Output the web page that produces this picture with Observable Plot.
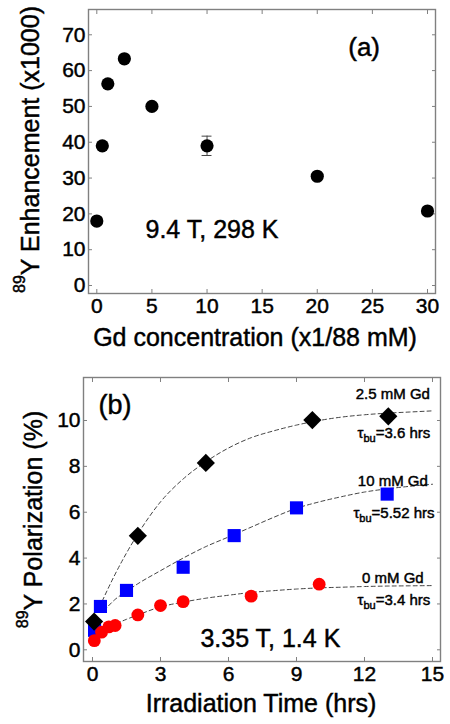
<!DOCTYPE html>
<html>
<head>
<meta charset="utf-8">
<script src="https://cdn.jsdelivr.net/npm/d3@7"></script>
<script src="https://cdn.jsdelivr.net/npm/@observablehq/plot@0.6"></script>
<style>
  html, body { margin: 0; padding: 0; background: #fff; }
  #chart svg { display: block; }
  #chart svg text { stroke: #000; stroke-width: 0.45px; }
</style>
</head>
<body>
<div id="chart"></div>
<script>
// ---------- Panel (a) data ----------
const gdConc = [0, 0.5, 1, 2.5, 5, 10, 20, 30];
const enhancement = [18, 39, 56.3, 63.3, 50, 39, 30.5, 20.8];
const enhancementErr = [0, 0, 0, 0, 0, 2.7, 0, 0];
const xTicksA = [0, 5, 10, 15, 20, 25, 30];
const yTicksA = [0, 10, 20, 30, 40, 50, 60, 70];

// ---------- Panel (b) data ----------
const gd25T = [0.07, 2.0, 5.0, 9.7, 13.05];
const gd25Y = [1.23, 4.97, 8.15, 10.02, 10.18];
const gd10T = [0.09, 0.35, 1.5, 4.0, 6.25, 9.0, 13.0];
const gd10Y = [0.85, 1.89, 2.59, 3.6, 4.98, 6.19, 6.79];
const gd0T = [0.08, 0.4, 0.72, 1.0, 2.0, 3.0, 4.0, 7.0, 10.0];
const gd0Y = [0.4, 0.77, 1.0, 1.06, 1.52, 1.93, 2.1, 2.34, 2.86];

// fitted build-up curves
const fit25T = [0.3, 1, 2, 3, 4, 5, 6, 7, 8, 9, 10, 11, 12, 13, 14, 15];
const fit25Y = [1.85, 3.3, 5.05, 6.45, 7.45, 8.2, 8.8, 9.25, 9.55, 9.8, 10.0, 10.15, 10.25, 10.32, 10.37, 10.42];
const fit10T = [0.5, 1, 1.5, 2, 3, 4, 5, 6, 7, 8, 9, 10, 11, 12, 13, 14, 15];
const fit10Y = [1.7, 2.2, 2.55, 2.88, 3.45, 4.0, 4.5, 4.92, 5.35, 5.78, 6.17, 6.45, 6.68, 6.88, 7.02, 7.13, 7.22];
const fit0T = [0.5, 1, 1.5, 2, 3, 4, 5, 6, 7, 8, 9, 10, 11, 12, 13, 14, 15];
const fit0Y = [0.9, 1.12, 1.33, 1.52, 1.87, 2.08, 2.25, 2.38, 2.5, 2.58, 2.65, 2.7, 2.73, 2.76, 2.78, 2.79, 2.8];

const xTicksB = [0, 3, 6, 9, 12, 15];
const yTicksB = [0, 2, 4, 6, 8, 10];

const seriesLabels = ["2.5 mM Gd", "10 mM Gd", "0 mM Gd"];
const tauLabels = ["τbu=3.6 hrs", "τbu=5.52 hrs", "τbu=3.4 hrs"];

// ---------- helpers ----------
const FONT = "'Liberation Sans', Arial, Helvetica, sans-serif";
const GRAY = "#808080";
const zip = (xs, ys) => xs.map((x, i) => ({x, y: ys[i]}));

function frameAxes(xt, yt) {
  return [
    Plot.frame({stroke: GRAY, strokeWidth: 1.4}),
    Plot.axisX(xt, {anchor: "bottom", tickSize: -4, tickPadding: 9, stroke: GRAY, fill: "#000", fontSize: 21, label: null}),
    Plot.axisX(xt, {anchor: "top", tickSize: -4, stroke: GRAY, fill: "none", label: null}),
    Plot.axisY(yt, {anchor: "left", tickSize: -4, tickPadding: 7, stroke: GRAY, fill: "#000", fontSize: 21, label: null}),
    Plot.axisY(yt, {anchor: "right", tickSize: -4, stroke: GRAY, fill: "none", label: null})
  ];
}

function richText(svg) {
  d3.select(svg).selectAll("text").each(function () {
    const t = this.textContent;
    const el = d3.select(this);
    if (t.startsWith("89Y")) {
      el.text(null);
      el.append("tspan").attr("font-size", 16).attr("dy", -14).text("89");
      el.append("tspan").attr("dy", 14).text(t.slice(2));
    } else if (t.startsWith("τbu")) {
      el.text(null);
      el.append("tspan").text("τ");
      el.append("tspan").attr("font-size", 11).attr("dy", 4).text("bu");
      el.append("tspan").attr("dy", -4).text(t.slice(3));
    }
  });
  return svg;
}

// ---------- Panel (a) ----------
const dataA = gdConc.map((x, i) => ({x, y: enhancement[i], e: enhancementErr[i]}));
const errA = dataA.filter(d => d.e > 0);

const plotA = Plot.plot({
  width: 450,
  height: 362,
  marginLeft: 88,
  marginRight: 15,
  marginTop: 9,
  marginBottom: 69,
  style: {fontFamily: FONT, fontSize: "21px", color: "#000", background: "#fff"},
  x: {domain: [-0.753, 30.726]},
  y: {domain: [-2.23, 77.06]},
  marks: [
    ...frameAxes(xTicksA, yTicksA),
    Plot.ruleX(errA, {x: "x", y1: d => d.y - d.e, y2: d => d.y + d.e, stroke: "#444", strokeWidth: 1}),
    Plot.ruleY(errA, {y: d => d.y + d.e, x1: d => d.x - 0.45, x2: d => d.x + 0.45, stroke: "#444", strokeWidth: 1}),
    Plot.ruleY(errA, {y: d => d.y - d.e, x1: d => d.x - 0.45, x2: d => d.x + 0.45, stroke: "#444", strokeWidth: 1}),
    Plot.dot(dataA, {x: "x", y: "y", r: 6.6, fill: "#000", stroke: null}),
    Plot.text(["(a)"], {text: d => d, x: 24.25, y: 66.5, fontSize: 26, textAnchor: "middle", lineAnchor: "middle"}),
    Plot.text(["9.4 T, 298 K"], {text: d => d, x: 4.42, y: 15.4, fontSize: 25, textAnchor: "start", lineAnchor: "middle"}),
    Plot.text(["Gd concentration (x1/88 mM)"], {text: d => d, frameAnchor: "bottom", lineAnchor: "bottom", textAnchor: "middle", dy: 52, dx: -7, fontSize: 25}),
    Plot.text(["89Y Enhancement (x1000)"], {text: d => d, frameAnchor: "left", rotate: -90, lineAnchor: "top", textAnchor: "middle", dx: -67.5, dy: -2, fontSize: 25})
  ]
});

// ---------- Panel (b) ----------
const plotB = Plot.plot({
  width: 450,
  height: 362,
  marginLeft: 83,
  marginRight: 10,
  marginTop: 15,
  marginBottom: 63,
  style: {fontFamily: FONT, fontSize: "21px", color: "#000", background: "#fff"},
  x: {domain: [-0.397, 15.353]},
  y: {domain: [-0.51, 11.875]},
  marks: [
    ...frameAxes(xTicksB, yTicksB),
    Plot.line(zip(fit25T, fit25Y), {x: "x", y: "y", curve: "monotone-x", stroke: "#444", strokeWidth: 1, strokeDasharray: "4,3"}),
    Plot.line(zip(fit10T, fit10Y), {x: "x", y: "y", curve: "monotone-x", stroke: "#444", strokeWidth: 1, strokeDasharray: "4,3"}),
    Plot.line(zip(fit0T, fit0Y), {x: "x", y: "y", curve: "monotone-x", stroke: "#444", strokeWidth: 1, strokeDasharray: "4,3"}),
    Plot.dot(zip(gd10T, gd10Y), {x: "x", y: "y", symbol: "square", r: 7.4, fill: "#0000ff", stroke: null}),
    Plot.dot(zip(gd0T, gd0Y), {x: "x", y: "y", symbol: "circle", r: 6.4, fill: "#ff0000", stroke: null}),
    Plot.dot(zip(gd25T, gd25Y), {x: "x", y: "y", symbol: "diamond2", r: 8.2, fill: "#000", stroke: null}),
    Plot.text(["(b)"], {text: d => d, x: 0.99, y: 10.65, fontSize: 27, textAnchor: "middle", lineAnchor: "middle"}),
    Plot.text(["3.35 T, 1.4 K"], {text: d => d, x: 4.76, y: 0.45, fontSize: 25, textAnchor: "start", lineAnchor: "middle"}),
    Plot.text(seriesLabels, {text: d => d, x: 13.25, y: [11.13, 7.34, 3.13], fontSize: 15, textAnchor: "middle", lineAnchor: "middle"}),
    Plot.text(tauLabels, {text: d => d, x: 13.3, y: [9.45, 5.97, 2.15], fontSize: 15, textAnchor: "middle", lineAnchor: "middle"}),
    Plot.text(["Irradiation Time (hrs)"], {text: d => d, frameAnchor: "bottom", lineAnchor: "bottom", textAnchor: "middle", dy: 50.7, dx: -1, fontSize: 25}),
    Plot.text(["89Y Polarization (%)"], {text: d => d, frameAnchor: "left", rotate: -90, lineAnchor: "top", textAnchor: "middle", dx: -59.5, fontSize: 25})
  ]
});

const root = document.getElementById("chart");
root.appendChild(richText(plotA));
root.appendChild(richText(plotB));
</script>
</body>
</html>
